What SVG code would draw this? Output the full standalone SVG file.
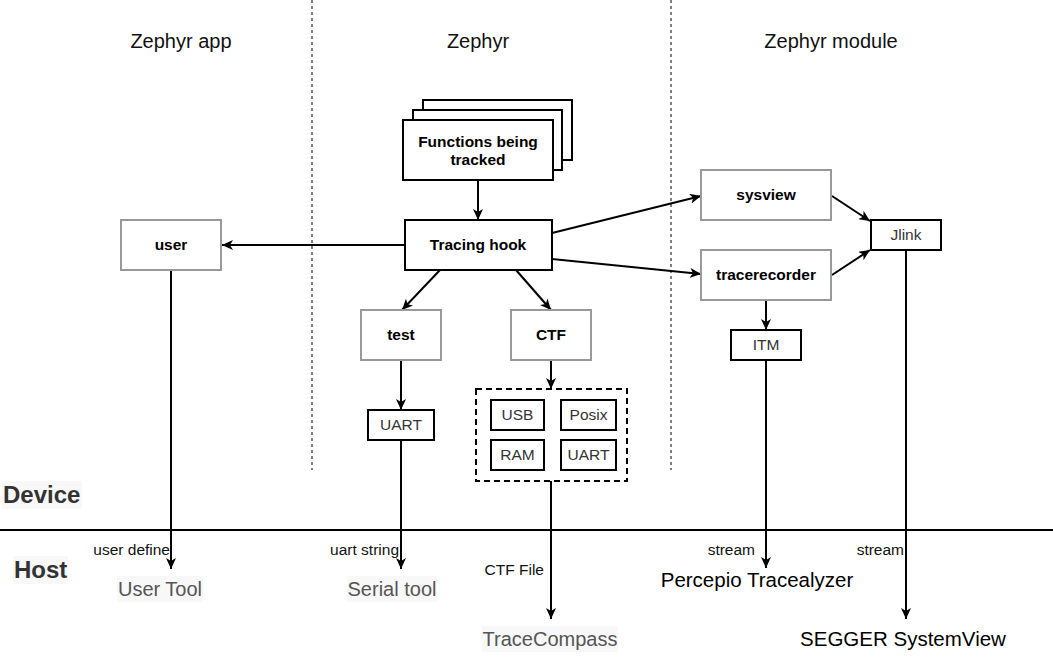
<svg xmlns="http://www.w3.org/2000/svg" width="1053" height="672" viewBox="0 0 1053 672">
<style>
text{font-family:"Liberation Sans",Arial,sans-serif}
.g{fill:#fff;stroke:#999;stroke-width:2}
.b{fill:#fff;stroke:#000;stroke-width:2}
.bt{font-size:15.5px;font-weight:bold;fill:#000;text-anchor:middle}
.nt{font-size:15.5px;fill:#333;text-anchor:middle}
.hd{font-size:20px;fill:#111;text-anchor:middle}
.lb{font-size:15.5px;fill:#111;text-anchor:end}
.tool{font-size:20px;fill:#555;text-anchor:middle}
.tool2{font-size:20.5px;fill:#000;text-anchor:middle}
.side{font-size:24px;font-weight:bold;fill:#333}
.bg{fill:#f8f8f8}
.c{fill:none;stroke:#000;stroke-width:2}
.dot{fill:none;stroke:#000;stroke-width:1;stroke-dasharray:3 3}
</style>
<defs>
<marker id="arr" markerWidth="12" markerHeight="10" refX="11" refY="5" orient="auto" markerUnits="userSpaceOnUse">
<path d="M0,0 L11,5 L0,10 L3,5 z" fill="#000"/>
</marker>
</defs>
<rect width="1053" height="672" fill="#fff"/>

<g id="lanes">
<line class="dot" x1="312" y1="0" x2="312" y2="470"/>
<line class="dot" x1="671" y1="0" x2="671" y2="470"/>
<line x1="0" y1="530" x2="1053" y2="530" stroke="#000" stroke-width="2"/>
<text class="hd" x="181" y="48">Zephyr app</text>
<text class="hd" x="478" y="48">Zephyr</text>
<text class="hd" x="831" y="48">Zephyr module</text>
<rect class="bg" x="2" y="481" width="80" height="28"/>
<text class="side" x="3" y="503">Device</text>
<rect class="bg" x="13" y="556" width="55" height="28"/>
<text class="side" x="14" y="578">Host</text>
</g>

<g id="connectors">
<line class="c" x1="478" y1="180" x2="478" y2="220" marker-end="url(#arr)"/>
<line class="c" x1="405" y1="245" x2="222" y2="245" marker-end="url(#arr)"/>
<line class="c" x1="440" y1="270" x2="402" y2="310" marker-end="url(#arr)"/>
<line class="c" x1="516" y1="270" x2="551" y2="310" marker-end="url(#arr)"/>
<line class="c" x1="552" y1="233" x2="701" y2="196" marker-end="url(#arr)"/>
<line class="c" x1="552" y1="259" x2="701" y2="274" marker-end="url(#arr)"/>
<line class="c" x1="832" y1="196" x2="870" y2="221" marker-end="url(#arr)"/>
<line class="c" x1="832" y1="275" x2="870" y2="250" marker-end="url(#arr)"/>
<line class="c" x1="766" y1="300" x2="766" y2="330" marker-end="url(#arr)"/>
<line class="c" x1="401" y1="360" x2="401" y2="410" marker-end="url(#arr)"/>
<line class="c" x1="551" y1="360" x2="551" y2="389" marker-end="url(#arr)"/>
<line class="c" x1="171" y1="270" x2="171" y2="569" marker-end="url(#arr)"/>
<line class="c" x1="401" y1="440" x2="401" y2="569" marker-end="url(#arr)"/>
<line class="c" x1="551" y1="481" x2="551" y2="619" marker-end="url(#arr)"/>
<line class="c" x1="766" y1="360" x2="766" y2="568" marker-end="url(#arr)"/>
<line class="c" x1="906" y1="250" x2="906" y2="619" marker-end="url(#arr)"/>
<text class="lb" x="170" y="555">user define</text>
<text class="lb" x="399" y="555">uart string</text>
<text class="lb" x="544" y="575">CTF File</text>
<text class="lb" x="755" y="555">stream</text>
<text class="lb" x="904" y="555">stream</text>
</g>

<g id="functions">
<rect class="b" x="423" y="100" width="149" height="60"/>
<rect class="b" x="413" y="110" width="149" height="60"/>
<rect class="b" x="403" y="120" width="150" height="60"/>
<text class="bt" x="478" y="147">Functions being</text>
<text class="bt" x="478" y="165">tracked</text>
</g>
<g id="tracing-hook">
<rect class="b" x="405" y="220" width="147" height="50"/>
<text class="bt" x="478" y="250">Tracing hook</text>
</g>
<g id="user">
<rect class="g" x="121" y="220" width="100" height="50"/>
<text class="bt" x="171" y="250">user</text>
</g>
<g id="test">
<rect class="g" x="361" y="310" width="80" height="50"/>
<text class="bt" x="401" y="340">test</text>
</g>
<g id="ctf">
<rect class="g" x="511" y="310" width="80" height="50"/>
<text class="bt" x="551" y="340">CTF</text>
</g>
<g id="sysview">
<rect class="g" x="701" y="170" width="130" height="50"/>
<text class="bt" x="766" y="200">sysview</text>
</g>
<g id="tracerecorder">
<rect class="g" x="701" y="250" width="130" height="50"/>
<text class="bt" x="766" y="280">tracerecorder</text>
</g>
<g id="jlink">
<rect class="b" x="871" y="220" width="70" height="30"/>
<text class="nt" x="906" y="240">Jlink</text>
</g>
<g id="itm">
<rect class="b" x="731" y="330" width="70" height="30"/>
<text class="nt" x="766" y="350">ITM</text>
</g>
<g id="uart-test">
<rect class="b" x="368" y="410" width="66" height="30"/>
<text class="nt" x="401" y="430">UART</text>
</g>
<g id="ctf-backends">
<rect x="476" y="389" width="151" height="92" fill="none" stroke="#000" stroke-width="2" stroke-dasharray="6 4"/>
<rect class="b" x="491" y="400" width="53" height="30"/>
<text class="nt" x="517.5" y="420">USB</text>
<rect class="b" x="561" y="400" width="55" height="30"/>
<text class="nt" x="588.5" y="420">Posix</text>
<rect class="b" x="491" y="440" width="53" height="30"/>
<text class="nt" x="517.5" y="460">RAM</text>
<rect class="b" x="561" y="440" width="55" height="30"/>
<text class="nt" x="588.5" y="460">UART</text>
</g>

<g id="user-tool">
<rect class="bg" x="117" y="576" width="86" height="26"/>
<text class="tool" x="160" y="596">User Tool</text>
</g>
<g id="serial-tool">
<rect class="bg" x="347" y="576" width="90" height="26"/>
<text class="tool" x="392" y="596">Serial tool</text>
</g>
<g id="tracecompass">
<rect class="bg" x="482" y="626" width="136" height="26"/>
<text class="tool" x="550" y="646">TraceCompass</text>
</g>
<g id="percepio">
<text class="tool2" x="757" y="587">Percepio Tracealyzer</text>
</g>
<g id="segger">
<text class="tool2" x="903" y="646">SEGGER SystemView</text>
</g>
</svg>
